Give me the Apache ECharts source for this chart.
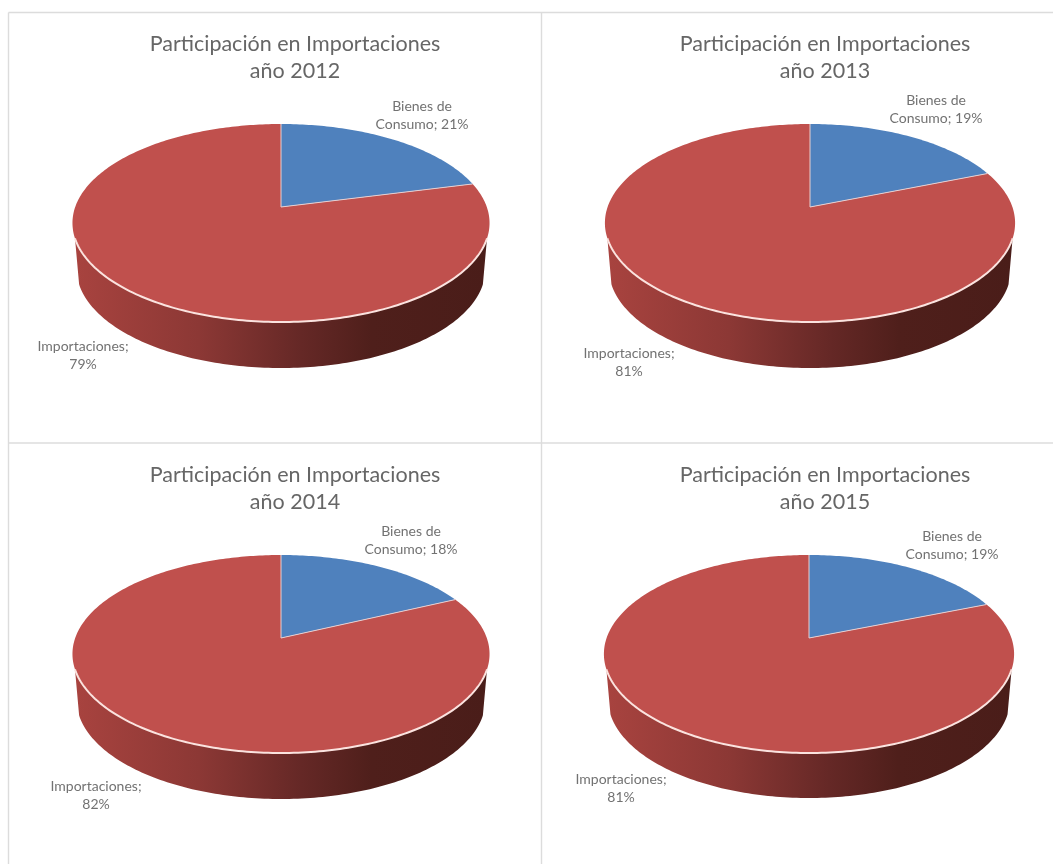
<!DOCTYPE html>
<html><head><meta charset="utf-8">
<style>html,body{margin:0;padding:0;background:#fff}#c{width:1053px;height:864px}</style>
<script src="https://cdn.jsdelivr.net/npm/echarts@6/dist/echarts.min.js"></script>
</head><body><div id="c"></div>
<script>
const years = ['2012','2013','2014','2015'];
const titlePrefix = 'Participación en Importaciones';
const titleYearWord = 'año';
const consumoName = ['Bienes de', 'Consumo'];
const importName = 'Importaciones';
const consumoValues = [21, 19, 18, 19];
const importValues = [79, 81, 82, 81];

// layout, in pixels, per panel
const pieCx = [281, 810, 281, 809];
const pieCy = [207, 207, 638, 638];
const pieRx = [205.8, 202.4, 205.8, 202.4];
const pieRy = [96.4, 96.4, 96.4, 96.4];
const wallDepth = [46, 46, 46, 45];
const titlePos = [[290,26],[820,26],[290,457],[820,457]];
const consumoLabelPos = [[422,115],[936,109],[411,540],[952,545]];
const importLabelPos = [[83,355],[629,362],[96,795],[621,788]];
const persp = 0.1616;
const wallStartAngle = 108;
const wallBottomScale = 0.98;

const chart = echarts.init(document.getElementById('c'), null, {renderer:'canvas'});
const RAD = Math.PI/180;
function proj(api, deg, dy, sx){
  const x = Math.sin(deg*RAD), z = Math.cos(deg*RAD), w = 1 + persp*z;
  const p = api.coord([(sx||1)*x/w, z/w]);
  return [p[0], p[1] + (dy||0)];
}
function arc(api, a0, a1, dy, sx){
  const pts = [], n = Math.max(2, Math.ceil(Math.abs(a1-a0)));
  for(let i=0;i<=n;i++) pts.push(proj(api, a0+(a1-a0)*i/n, dy, sx));
  return pts;
}
function makeRender(i){
  return function(params, api){
    const c = api.value(0), m = api.value(1), end = 360*c/(c+m);
    const apex = api.coord([0,0]);
    const front = arc(api, wallStartAngle, 360-wallStartAngle);
    const wall = front.concat(arc(api, 360-wallStartAngle, wallStartAngle, wallDepth[i], wallBottomScale));
    const red = [apex].concat(arc(api, end, 360));
    const blue = [apex].concat(arc(api, 0, end));
    const textStyle = {font:'14px Lato', fill:'#727272', textAlign:'center', textVerticalAlign:'middle', lineHeight:18};
    return {type:'group', children:[
      {type:'polygon', shape:{points:wall}, style:{
        fill:new echarts.graphic.LinearGradient(0,0,1,0,[
          {offset:0,color:'#a8433f'},{offset:0.3,color:'#8c3835'},{offset:0.55,color:'#652826'},
          {offset:0.72,color:'#4f1f1b'},{offset:1,color:'#4a1d19'}]), stroke:null}},
      {type:'polygon', shape:{points:red}, style:{fill:'#c0504d', stroke:null}},
      {type:'polygon', shape:{points:blue}, style:{fill:'#4f81bd', stroke:null}},
      {type:'polyline', shape:{points:[proj(api,0),apex,proj(api,end)]}, style:{fill:null, stroke:'#e8cfd0', lineWidth:1}},
      {type:'polyline', shape:{points:front}, style:{fill:null, stroke:'#fbe3df', lineWidth:2}},
      {type:'text', style:Object.assign({x:consumoLabelPos[i][0], y:consumoLabelPos[i][1],
        text:consumoName[0]+'\n'+consumoName[1]+'; '+c+'%'}, textStyle)},
      {type:'text', style:Object.assign({x:importLabelPos[i][0], y:importLabelPos[i][1],
        text:importName+';\n'+m+'%'}, textStyle)}
    ]};
  };
}
const frame = [[8.5,12.5,1053,12.5],[8.5,12.5,8.5,864],[541.5,12.5,541.5,864],[8.5,443,1053,443]];
chart.setOption({
  animation:false,
  backgroundColor:'#ffffff',
  title: years.map((y,i)=>({
    text: titlePrefix+'\n'+titleYearWord+' '+y,
    left: titlePos[i][0], top: titlePos[i][1], textAlign:'center',
    textStyle:{fontFamily:'Lato', fontSize:21.5, fontWeight:'normal', color:'#666666', lineHeight:27}
  })),
  grid: years.map((y,i)=>({left:pieCx[i]-pieRx[i], width:2*pieRx[i], top:pieCy[i]-pieRy[i], height:2*pieRy[i]})),
  xAxis: years.map((y,i)=>({type:'value', gridIndex:i, min:-1, max:1, show:false})),
  yAxis: years.map((y,i)=>({type:'value', gridIndex:i, min:-1, max:1, show:false})),
  series: years.map((y,i)=>({
    type:'custom', name:y, xAxisIndex:i, yAxisIndex:i, clip:false, silent:true,
    data:[[consumoValues[i], importValues[i]]],
    renderItem: makeRender(i)
  })),
  graphic: frame.map(f=>({type:'line', z:-1, shape:{x1:f[0],y1:f[1],x2:f[2],y2:f[3]}, style:{stroke:'#dcdcdc', lineWidth:1.4}, silent:true}))
});
</script></body></html>
